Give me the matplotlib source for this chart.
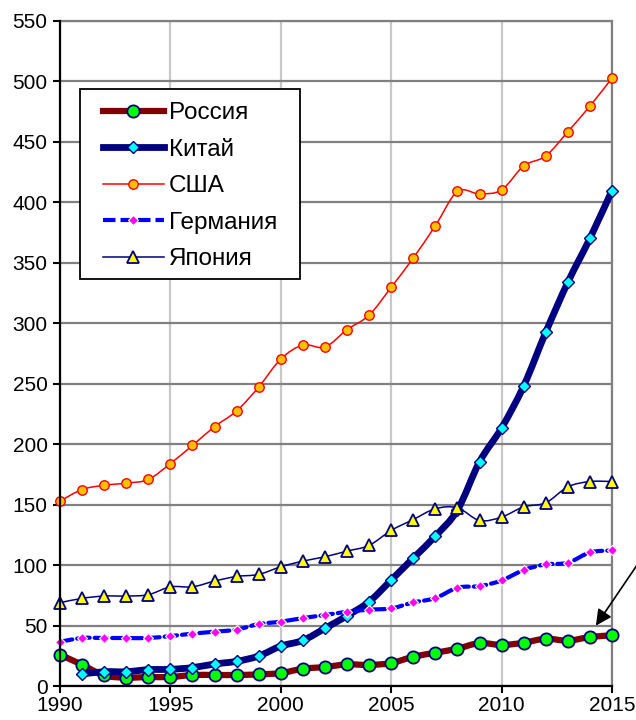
import numpy as np
import matplotlib
matplotlib.use("Agg")
import matplotlib.pyplot as plt
from matplotlib.path import Path
from matplotlib.patches import PathPatch, Rectangle
from matplotlib.lines import Line2D

plt.rcParams['font.family'] = ['Liberation Sans', 'DejaVu Sans']

years = list(range(1990, 2016))

russia = [25.9, 17.6, 8.8, 6.9, 7.4, 7.4, 9.1, 9.1, 9.1, 9.6, 10.7, 14.3, 15.7,
          17.9, 17.4, 19.0, 24.2, 27.5, 30.9, 35.5, 33.9, 35.8, 39.1, 37.5, 40.5, 41.9]
# China series starts in 1991
china_years = years[1:]
china = [9.9, 11.8, 11.8, 13.5, 13.8, 15.2, 18.2, 20.4, 24.8, 33.0, 37.7, 47.7,
         58.1, 69.7, 87.6, 105.8, 124.0, 145.5, 185.4, 213.4, 248.1, 292.6, 333.9, 370.2, 409.8]
usa = [152.9, 162.5, 166.0, 167.8, 170.8, 184.0, 199.0, 214.5, 227.5, 247.3, 270.4, 282.0, 280.3,
       294.8, 306.7, 329.8, 354.0, 380.7, 409.0, 407.0, 410.3, 430.1, 438.4, 458.5, 479.6, 502.8]
germany = [36.6, 39.7, 39.7, 39.7, 39.7, 41.3, 43.3, 44.9, 46.6, 51.2, 53.2, 56.2, 58.7,
           61.4, 63.1, 64.2, 69.1, 72.7, 81.3, 82.6, 87.3, 95.9, 100.6, 101.9, 110.5, 112.1]
japan = [68.9, 72.5, 74.4, 74.4, 75.5, 82.0, 82.0, 86.8, 90.6, 92.3, 98.6, 103.3, 106.9,
         111.6, 116.3, 128.7, 137.7, 146.6, 147.4, 136.9, 139.7, 148.2, 151.5, 164.7, 169.1, 169.1]

labels = ["Россия", "Китай", "США", "Германия", "Япония"]
yticks = list(range(0, 551, 50))
xticks = list(range(1990, 2016, 5))


def smooth_path(x, y):
    # excel-like smoothed line through the data points (catmull-rom as bezier)
    pts = np.column_stack([x, y]).astype(float)
    n = len(pts)
    verts = [pts[0]]
    codes = [Path.MOVETO]
    for i in range(n - 1):
        p0 = pts[max(i - 1, 0)]
        p1 = pts[i]
        p2 = pts[i + 1]
        p3 = pts[min(i + 2, n - 1)]
        verts += [p1 + (p2 - p0) / 6, p2 - (p3 - p1) / 6, p2]
        codes += [Path.CURVE4] * 3
    return Path(verts, codes)


series = [
    (years, russia, dict(color='#800000', lw=4.5, ls='-'),
     dict(marker='o', ms=8.8, mfc='#00FF00', mec='#000080', mew=1.3)),
    (china_years, china, dict(color='#000080', lw=4.9, ls='-'),
     dict(marker='D', ms=5.8, mfc='#00FFFF', mec='#000080', mew=1.0)),
    (years, usa, dict(color='#FF0000', lw=1.1, ls='-'),
     dict(marker='o', ms=6.8, mfc='#FFC000', mec='#FF0000', mew=1.0)),
    (years, germany, dict(color='#0000FF', lw=3.0, ls=(0, (3, 1.2))),
     dict(marker='D', ms=5.2, mfc='#FF00FF', mec='white', mew=0.8)),
    (years, japan, dict(color='#000080', lw=1.1, ls='-'),
     dict(marker='^', ms=8.8, mfc='#FFFF00', mec='#000080', mew=1.3)),
]

fig = plt.figure(figsize=(6.36, 7.2), dpi=100)
ax = fig.add_axes([60 / 636, 34 / 720, 552 / 636, 665 / 720])

handles = []
for k, (xs, ys, lstyle, mstyle) in enumerate(series):
    patch = PathPatch(smooth_path(xs, ys), facecolor='none', edgecolor=lstyle['color'],
                      lw=lstyle['lw'], linestyle=lstyle['ls'], capstyle='round',
                      joinstyle='round', clip_on=False, zorder=3 + 2 * k)
    ax.add_patch(patch)
    ax.plot(xs, ys, linestyle='none', clip_on=False, zorder=4 + 2 * k, **mstyle)
    handles.append(Line2D([], [], color=lstyle['color'], lw=lstyle['lw'],
                          linestyle=lstyle['ls'], **mstyle))

ax.set_xlim(1990, 2015)
ax.set_ylim(0, 550)
ax.set_xticks(xticks)
ax.set_yticks(yticks)
ax.tick_params(axis='both', labelsize=15, length=5, width=1.5, direction='out')
ax.tick_params(axis='y', pad=4)
ax.tick_params(axis='x', pad=2)

ax.set_axisbelow(True)
ax.yaxis.grid(True, color='#808080', lw=1.6)
ax.xaxis.grid(True, color='#C8C8C8', lw=1.6)
for side in ['left', 'bottom']:
    ax.spines[side].set_color('black')
    ax.spines[side].set_linewidth(1.6)
    ax.spines[side].set_zorder(20)
for side in ['top', 'right']:
    ax.spines[side].set_color('#808080')
    ax.spines[side].set_linewidth(1.6)

# legend box drawn separately (excel pads it wider than tall)
frame = Rectangle((20 / 552, 407 / 665), 220 / 552, 190 / 665, transform=ax.transAxes,
                  facecolor='white', edgecolor='black', lw=1.3, zorder=25)
ax.add_patch(frame)
leg = ax.legend(handles, labels, loc='upper left', bbox_to_anchor=(43 / 552, 584 / 665),
                fontsize=17.5, frameon=False, handlelength=2.5,
                labelspacing=0.6, borderpad=0, handletextpad=0.2, borderaxespad=0)
leg.set_zorder(30)

ax.annotate('', xy=(2014.2, 48), xytext=(650, 174), textcoords='figure pixels',
            arrowprops=dict(arrowstyle='-|>', color='black', lw=1.2, mutation_scale=24),
            annotation_clip=False, zorder=40)

fig.savefig('out.png', dpi=100)
